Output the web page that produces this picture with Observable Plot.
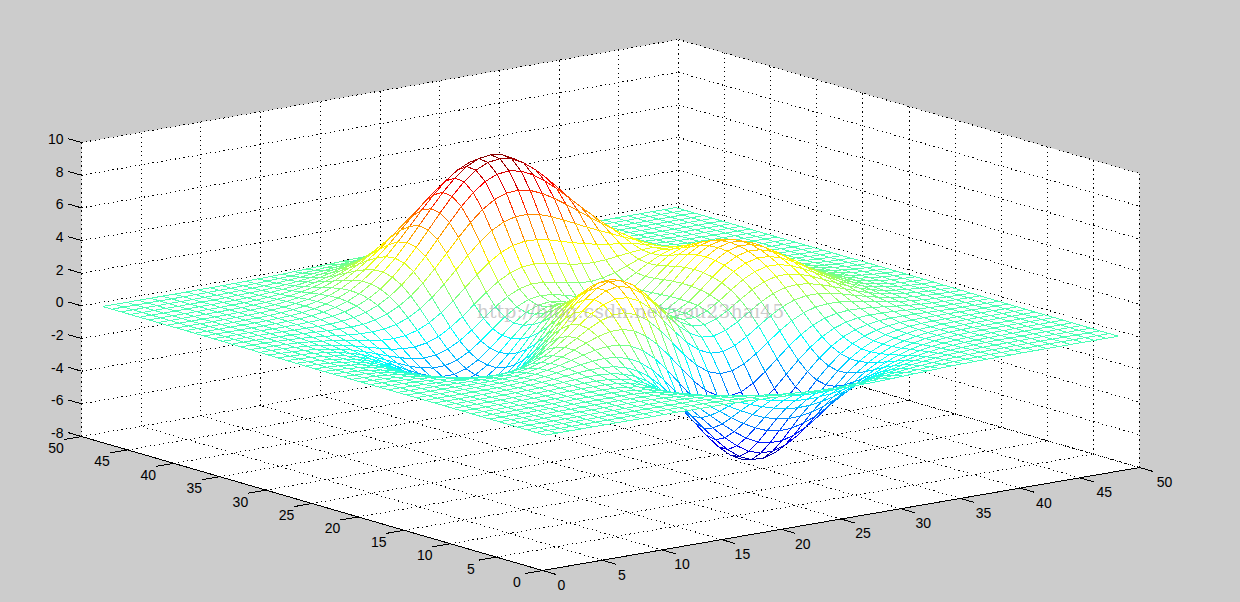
<!DOCTYPE html>
<html><head><meta charset="utf-8">
<script src="https://cdn.jsdelivr.net/npm/d3@7"></script>
<script src="https://cdn.jsdelivr.net/npm/@observablehq/plot@0.6"></script>
<style>html,body{margin:0;padding:0;background:#ccc;overflow:hidden}svg{display:block}</style>
</head><body><div id="chart"></div>
<script>
const xTicks=[0,5,10,15,20,25,30,35,40,45,50];
const yTicks=[0,5,10,15,20,25,30,35,40,45,50];
const zTicks=[-8,-6,-4,-2,0,2,4,6,8,10];
const jetStops=[-6.55,-4.72,-1.06,2.61,6.27,8.1];
const jetColors=["#00007f","#0000ff","#00ffff","#ffff00","#ff0000","#7f0000"];
const watermark="http://blog.csdn.net/you23hai45";
// surface heights, one row per y = 1..49, one value per x = 1..49
const zRows=[
[0,0,0,0,0,0,0,0,0,0,.01,.01,0,0,-.01,-.01,-.03,-.05,-.08,-.11,-.14,-.17,-.2,-.23,-.25,-.25,-.25,-.24,-.22,-.2,-.17,-.14,-.11,-.08,-.06,-.04,-.03,-.02,-.01,-.01,0,0,0,0,0,0,0,0,0],
[0,0,0,0,0,0,0,0,.01,.01,.01,.01,0,0,-.01,-.03,-.06,-.09,-.13,-.18,-.24,-.29,-.34,-.39,-.42,-.43,-.43,-.41,-.38,-.33,-.28,-.23,-.19,-.14,-.11,-.08,-.05,-.04,-.02,-.02,-.01,-.01,0,0,0,0,0,0,0],
[0,0,0,0,0,0,0,.01,.01,.01,.01,.01,0,-.01,-.02,-.05,-.1,-.15,-.22,-.3,-.39,-.48,-.56,-.63,-.68,-.7,-.69,-.66,-.61,-.54,-.46,-.38,-.3,-.23,-.17,-.12,-.09,-.06,-.04,-.02,-.02,-.01,-.01,0,0,0,0,0,0],
[0,0,0,0,0,0,.01,.01,.01,.01,.01,.01,0,-.01,-.04,-.09,-.15,-.24,-.35,-.48,-.61,-.75,-.88,-.98,-1.05,-1.09,-1.08,-1.03,-.95,-.84,-.71,-.59,-.46,-.35,-.26,-.18,-.12,-.08,-.05,-.03,-.02,-.01,-.01,0,0,0,0,0,0],
[0,0,0,0,0,0,.01,.01,.01,.02,.02,.02,0,-.02,-.07,-.14,-.23,-.36,-.53,-.71,-.91,-1.12,-1.31,-1.46,-1.57,-1.62,-1.6,-1.53,-1.41,-1.24,-1.06,-.87,-.69,-.52,-.38,-.27,-.18,-.12,-.08,-.05,-.03,-.01,-.01,-.01,0,0,0,0,0],
[0,0,0,0,0,.01,.01,.02,.02,.02,.03,.02,0,-.03,-.1,-.19,-.33,-.51,-.74,-1.01,-1.3,-1.59,-1.85,-2.07,-2.23,-2.3,-2.28,-2.18,-2,-1.77,-1.51,-1.24,-.98,-.74,-.54,-.38,-.26,-.17,-.11,-.06,-.04,-.02,-.01,-.01,0,0,0,0,0],
[0,0,0,0,.01,.01,.02,.02,.03,.03,.03,.03,.01,-.04,-.12,-.25,-.44,-.69,-1,-1.36,-1.74,-2.14,-2.5,-2.81,-3.02,-3.12,-3.1,-2.96,-2.72,-2.41,-2.05,-1.68,-1.32,-1,-.74,-.52,-.35,-.22,-.14,-.08,-.05,-.03,-.01,-.01,0,0,0,0,0],
[0,0,0,0,.01,.01,.02,.03,.04,.04,.05,.05,.02,-.04,-.14,-.3,-.53,-.85,-1.24,-1.71,-2.21,-2.73,-3.21,-3.61,-3.9,-4.04,-4.01,-3.83,-3.53,-3.12,-2.65,-2.17,-1.71,-1.3,-.95,-.66,-.44,-.28,-.17,-.1,-.05,-.03,-.01,-.01,0,0,0,0,0],
[0,0,0,.01,.01,.01,.02,.03,.05,.06,.07,.07,.05,-.01,-.13,-.31,-.59,-.97,-1.45,-2.01,-2.64,-3.28,-3.88,-4.39,-4.76,-4.94,-4.93,-4.72,-4.35,-3.85,-3.27,-2.68,-2.1,-1.59,-1.15,-.8,-.53,-.34,-.2,-.12,-.06,-.03,-.01,-.01,0,0,0,0,0],
[0,0,0,.01,.01,.02,.03,.04,.06,.08,.1,.1,.09,.04,-.08,-.27,-.58,-1,-1.54,-2.2,-2.93,-3.69,-4.41,-5.03,-5.49,-5.73,-5.74,-5.51,-5.08,-4.5,-3.82,-3.12,-2.44,-1.83,-1.32,-.9,-.59,-.37,-.22,-.12,-.06,-.03,-.01,0,0,0,0,0,0],
[0,0,0,.01,.01,.02,.03,.05,.07,.1,.13,.15,.15,.12,.02,-.16,-.46,-.9,-1.48,-2.19,-3.01,-3.87,-4.7,-5.43,-5.98,-6.29,-6.33,-6.11,-5.64,-5,-4.24,-3.45,-2.69,-2,-1.42,-.96,-.61,-.37,-.2,-.1,-.05,-.01,0,.01,.01,0,0,0,0],
[0,0,0,.01,.01,.02,.03,.05,.08,.12,.16,.2,.24,.24,.18,.04,-.22,-.63,-1.19,-1.92,-2.77,-3.69,-4.6,-5.42,-6.06,-6.45,-6.55,-6.35,-5.89,-5.22,-4.42,-3.58,-2.76,-2.03,-1.41,-.93,-.57,-.32,-.16,-.06,-.01,.01,.02,.02,.01,.01,.01,0,0],
[0,0,0,0,.01,.01,.03,.05,.08,.13,.19,.26,.33,.38,.39,.33,.15,-.18,-.68,-1.35,-2.18,-3.12,-4.07,-4.96,-5.68,-6.15,-6.32,-6.18,-5.76,-5.11,-4.31,-3.46,-2.63,-1.89,-1.27,-.79,-.44,-.21,-.07,.01,.04,.05,.05,.04,.03,.02,.01,.01,0],
[0,0,0,0,0,0,.01,.03,.07,.12,.19,.29,.41,.53,.63,.67,.61,.41,.04,-.53,-1.28,-2.17,-3.13,-4.05,-4.83,-5.39,-5.65,-5.6,-5.25,-4.65,-3.9,-3.09,-2.29,-1.57,-.98,-.53,-.22,-.03,.08,.12,.12,.11,.08,.06,.04,.03,.02,.01,.01],
[0,-.01,-.01,-.01,-.01,-.02,-.01,0,.03,.08,.17,.29,.45,.64,.84,1.01,1.11,1.08,.88,.48,-.14,-.94,-1.85,-2.77,-3.61,-4.24,-4.61,-4.66,-4.4,-3.9,-3.23,-2.48,-1.74,-1.08,-.56,-.17,.08,.22,.27,.26,.23,.18,.13,.09,.06,.04,.02,.01,.01],
[-.01,-.01,-.02,-.02,-.03,-.04,-.05,-.05,-.03,.01,.09,.23,.42,.68,.98,1.28,1.55,1.73,1.74,1.53,1.09,.43,-.4,-1.3,-2.16,-2.87,-3.32,-3.48,-3.34,-2.94,-2.36,-1.7,-1.04,-.47,-.02,.29,.46,.52,.5,.44,.35,.27,.19,.13,.09,.05,.03,.02,.01],
[-.01,-.02,-.02,-.04,-.06,-.08,-.1,-.12,-.13,-.11,-.04,.09,.3,.6,.98,1.42,1.86,2.23,2.45,2.47,2.22,1.72,1,.14,-.73,-1.48,-2.02,-2.27,-2.22,-1.92,-1.43,-.85,-.27,.22,.58,.8,.88,.86,.77,.64,.5,.37,.26,.18,.11,.07,.04,.02,.01],
[-.01,-.02,-.04,-.06,-.09,-.13,-.17,-.22,-.26,-.28,-.24,-.14,.07,.39,.83,1.36,1.95,2.5,2.93,3.15,3.11,2.77,2.16,1.37,.51,-.27,-.86,-1.18,-1.21,-.97,-.54,-.02,.49,.91,1.2,1.34,1.33,1.23,1.06,.85,.66,.48,.34,.22,.14,.09,.05,.03,.02],
[-.02,-.03,-.05,-.08,-.12,-.18,-.25,-.34,-.42,-.49,-.51,-.45,-.28,.03,.5,1.1,1.78,2.48,3.09,3.5,3.63,3.44,2.94,2.22,1.4,.61,0,-.36,-.41,-.2,.2,.7,1.18,1.56,1.79,1.86,1.78,1.59,1.35,1.08,.82,.6,.41,.28,.18,.11,.06,.04,.02],
[-.02,-.04,-.06,-.1,-.16,-.24,-.35,-.47,-.61,-.73,-.82,-.83,-.72,-.45,0,.63,1.38,2.18,2.92,3.48,3.76,3.7,3.31,2.66,1.88,1.11,.51,.16,.11,.34,.76,1.27,1.75,2.11,2.31,2.33,2.19,1.94,1.62,1.29,.98,.71,.49,.32,.21,.13,.08,.04,.02],
[-.03,-.05,-.08,-.13,-.2,-.3,-.44,-.61,-.8,-.99,-1.16,-1.25,-1.21,-1.01,-.6,.02,.8,1.66,2.49,3.16,3.55,3.6,3.3,2.73,2,1.27,.7,.39,.39,.67,1.14,1.69,2.2,2.57,2.76,2.75,2.56,2.25,1.88,1.48,1.12,.81,.56,.37,.24,.15,.09,.05,.03],
[-.03,-.05,-.09,-.15,-.24,-.36,-.53,-.74,-.98,-1.24,-1.49,-1.66,-1.71,-1.58,-1.23,-.66,.12,1,1.89,2.63,3.11,3.25,3.03,2.53,1.86,1.19,.67,.42,.48,.83,1.37,1.98,2.53,2.93,3.11,3.08,2.86,2.51,2.09,1.65,1.25,.9,.62,.41,.26,.16,.09,.05,.03],
[-.03,-.06,-.1,-.17,-.27,-.41,-.6,-.85,-1.14,-1.46,-1.78,-2.03,-2.16,-2.12,-1.84,-1.31,-.56,.32,1.23,2.02,2.56,2.77,2.63,2.19,1.58,.98,.53,.34,.48,.89,1.5,2.16,2.76,3.18,3.37,3.33,3.09,2.7,2.25,1.77,1.34,.97,.67,.44,.28,.17,.1,.06,.03],
[-.04,-.06,-.11,-.18,-.29,-.44,-.66,-.93,-1.26,-1.63,-2,-2.32,-2.53,-2.55,-2.34,-1.87,-1.17,-.31,.6,1.41,2,2.26,2.18,1.81,1.27,.74,.35,.23,.43,.9,1.56,2.27,2.89,3.33,3.53,3.49,3.23,2.82,2.34,1.85,1.4,1.01,.7,.46,.29,.18,.11,.06,.03],
[-.04,-.07,-.11,-.19,-.3,-.46,-.69,-.98,-1.33,-1.73,-2.14,-2.51,-2.77,-2.86,-2.71,-2.3,-1.65,-.82,.06,.88,1.48,1.78,1.75,1.45,.98,.51,.19,.13,.37,.89,1.57,2.3,2.94,3.38,3.58,3.53,3.27,2.86,2.37,1.87,1.41,1.02,.7,.46,.3,.18,.11,.06,.03],
[-.04,-.07,-.11,-.19,-.3,-.47,-.69,-.99,-1.35,-1.76,-2.2,-2.59,-2.89,-3.02,-2.93,-2.57,-1.98,-1.21,-.36,.43,1.03,1.36,1.37,1.13,.73,.32,.06,.05,.32,.85,1.54,2.26,2.89,3.33,3.52,3.47,3.21,2.81,2.33,1.84,1.39,1,.69,.46,.29,.18,.11,.06,.03],
[-.04,-.06,-.11,-.18,-.29,-.45,-.67,-.96,-1.32,-1.73,-2.16,-2.56,-2.87,-3.03,-2.98,-2.68,-2.15,-1.44,-.65,.1,.68,1.01,1.06,.86,.52,.18,-.03,-.01,.28,.8,1.47,2.16,2.76,3.18,3.36,3.31,3.06,2.68,2.22,1.75,1.32,.95,.66,.43,.28,.17,.1,.06,.03],
[-.03,-.06,-.1,-.17,-.27,-.42,-.63,-.9,-1.24,-1.63,-2.04,-2.42,-2.74,-2.91,-2.88,-2.63,-2.16,-1.51,-.79,-.1,.45,.77,.84,.69,.41,.13,-.04,0,.28,.77,1.38,2.02,2.58,2.95,3.12,3.07,2.83,2.47,2.05,1.62,1.22,.88,.61,.4,.26,.16,.09,.05,.03],
[-.03,-.05,-.09,-.15,-.25,-.38,-.57,-.82,-1.12,-1.47,-1.85,-2.21,-2.49,-2.65,-2.64,-2.42,-2,-1.42,-.76,-.13,.39,.7,.8,.69,.46,.23,.09,.13,.38,.8,1.34,1.9,2.38,2.7,2.83,2.78,2.56,2.23,1.85,1.45,1.09,.79,.54,.36,.23,.14,.08,.05,.03],
[-.03,-.05,-.08,-.13,-.21,-.33,-.5,-.71,-.98,-1.28,-1.61,-1.92,-2.16,-2.29,-2.27,-2.06,-1.67,-1.13,-.52,.08,.57,.89,1.01,.95,.78,.58,.45,.47,.65,.99,1.41,1.85,2.22,2.47,2.55,2.48,2.27,1.97,1.62,1.27,.96,.69,.47,.31,.2,.12,.07,.04,.02],
[-.02,-.04,-.07,-.11,-.18,-.28,-.42,-.6,-.82,-1.07,-1.33,-1.57,-1.76,-1.84,-1.78,-1.55,-1.16,-.64,-.05,.54,1.04,1.39,1.55,1.55,1.42,1.25,1.12,1.08,1.17,1.37,1.65,1.94,2.17,2.31,2.32,2.21,1.99,1.71,1.4,1.1,.82,.59,.41,.27,.17,.1,.06,.03,.02],
[-.02,-.03,-.05,-.09,-.15,-.22,-.33,-.47,-.65,-.84,-1.03,-1.21,-1.32,-1.33,-1.21,-.94,-.51,.03,.65,1.26,1.8,2.2,2.43,2.49,2.42,2.27,2.1,1.99,1.95,1.99,2.08,2.17,2.24,2.24,2.16,1.99,1.76,1.49,1.2,.93,.69,.49,.34,.22,.14,.09,.05,.03,.02],
[-.01,-.03,-.04,-.07,-.11,-.17,-.25,-.36,-.48,-.61,-.74,-.83,-.86,-.8,-.6,-.26,.23,.83,1.51,2.18,2.79,3.28,3.59,3.72,3.69,3.55,3.34,3.13,2.94,2.78,2.66,2.55,2.43,2.28,2.09,1.85,1.58,1.3,1.04,.79,.58,.41,.28,.18,.11,.07,.04,.02,.01],
[-.01,-.02,-.03,-.05,-.08,-.12,-.18,-.25,-.33,-.41,-.47,-.48,-.43,-.28,0,.43,.99,1.67,2.43,3.19,3.89,4.46,4.86,5.06,5.08,4.94,4.68,4.36,4.01,3.66,3.33,3.01,2.7,2.39,2.07,1.76,1.45,1.16,.9,.67,.49,.34,.23,.15,.09,.06,.03,.02,.01],
[-.01,-.01,-.02,-.04,-.06,-.08,-.12,-.16,-.2,-.22,-.22,-.18,-.05,.19,.55,1.05,1.7,2.46,3.29,4.13,4.92,5.58,6.07,6.34,6.39,6.25,5.94,5.52,5.02,4.5,3.97,3.46,2.97,2.51,2.09,1.7,1.35,1.05,.79,.58,.41,.28,.19,.12,.07,.05,.03,.01,.01],
[0,-.01,-.01,-.02,-.03,-.05,-.07,-.08,-.09,-.08,-.03,.07,.26,.56,.98,1.55,2.25,3.07,3.97,4.87,5.73,6.46,7.01,7.33,7.41,7.27,6.92,6.41,5.81,5.14,4.46,3.8,3.17,2.6,2.09,1.65,1.27,.96,.7,.5,.35,.23,.15,.1,.06,.03,.02,.01,.01],
[0,-.01,-.01,-.01,-.02,-.03,-.03,-.03,-.01,.03,.11,.25,.48,.81,1.27,1.87,2.61,3.45,4.37,5.31,6.19,6.96,7.54,7.89,7.99,7.85,7.48,6.93,6.25,5.5,4.72,3.96,3.25,2.61,2.05,1.58,1.19,.87,.62,.43,.29,.19,.12,.08,.05,.03,.02,.01,0],
[0,0,-.01,-.01,-.01,-.01,0,.01,.04,.1,.2,.36,.6,.95,1.42,2.02,2.74,3.57,4.48,5.39,6.27,7.02,7.6,7.96,8.07,7.93,7.56,7.01,6.3,5.52,4.71,3.92,3.18,2.52,1.95,1.47,1.08,.78,.55,.37,.25,.16,.1,.06,.04,.02,.01,.01,0],
[0,0,0,0,0,0,.01,.03,.07,.13,.24,.41,.65,.98,1.43,1.99,2.67,3.45,4.29,5.15,5.96,6.68,7.22,7.57,7.68,7.55,7.2,6.66,5.99,5.23,4.45,3.68,2.96,2.32,1.78,1.32,.96,.68,.47,.31,.21,.13,.08,.05,.03,.02,.01,0,0],
[0,0,0,0,0,.01,.02,.04,.08,.15,.25,.4,.62,.93,1.33,1.83,2.44,3.12,3.87,4.62,5.35,5.98,6.47,6.78,6.88,6.76,6.45,5.97,5.36,4.68,3.97,3.27,2.62,2.04,1.55,1.14,.82,.57,.39,.26,.17,.1,.06,.04,.02,.01,.01,0,0],
[0,0,0,0,.01,.01,.02,.04,.08,.14,.23,.36,.55,.82,1.16,1.59,2.1,2.68,3.31,3.95,4.56,5.09,5.51,5.77,5.86,5.76,5.5,5.09,4.57,3.98,3.37,2.77,2.21,1.72,1.29,.95,.68,.47,.32,.21,.13,.08,.05,.03,.02,.01,0,0,0],
[0,0,0,0,.01,.01,.02,.04,.07,.12,.2,.3,.46,.68,.95,1.3,1.71,2.18,2.68,3.2,3.69,4.12,4.45,4.67,4.74,4.67,4.45,4.12,3.69,3.22,2.72,2.23,1.78,1.37,1.03,.75,.53,.37,.25,.16,.1,.06,.04,.02,.01,.01,0,0,0],
[0,0,0,0,.01,.01,.02,.03,.06,.1,.16,.24,.36,.53,.74,1.01,1.32,1.68,2.07,2.46,2.84,3.17,3.43,3.6,3.65,3.59,3.42,3.17,2.84,2.48,2.09,1.71,1.36,1.05,.79,.57,.4,.28,.19,.12,.08,.05,.03,.02,.01,0,0,0,0],
[0,0,0,0,0,.01,.01,.03,.04,.07,.12,.18,.27,.39,.55,.74,.97,1.24,1.52,1.81,2.09,2.33,2.52,2.64,2.68,2.64,2.52,2.33,2.09,1.82,1.53,1.25,1,.77,.58,.42,.29,.2,.13,.09,.05,.03,.02,.01,.01,0,0,0,0],
[0,0,0,0,0,.01,.01,.02,.03,.05,.08,.13,.19,.28,.39,.52,.69,.87,1.07,1.27,1.47,1.64,1.77,1.86,1.88,1.86,1.77,1.64,1.47,1.28,1.08,.88,.7,.54,.4,.29,.2,.14,.09,.06,.04,.02,.01,.01,.01,0,0,0,0],
[0,0,0,0,0,0,.01,.01,.02,.04,.06,.09,.13,.19,.26,.35,.46,.59,.72,.86,.99,1.1,1.19,1.25,1.27,1.25,1.19,1.1,.99,.86,.72,.59,.47,.36,.27,.19,.13,.09,.06,.04,.02,.01,.01,0,0,0,0,0,0],
[0,0,0,0,0,0,0,.01,.01,.02,.04,.06,.08,.12,.17,.23,.3,.38,.47,.55,.64,.71,.77,.81,.82,.81,.77,.71,.64,.55,.47,.38,.3,.23,.17,.12,.09,.06,.04,.02,.01,.01,0,0,0,0,0,0,0],
[0,0,0,0,0,0,0,.01,.01,.02,.02,.04,.05,.08,.11,.14,.19,.24,.29,.34,.39,.44,.48,.5,.51,.5,.48,.44,.39,.34,.29,.24,.19,.14,.11,.08,.05,.04,.02,.02,.01,.01,0,0,0,0,0,0,0],
[0,0,0,0,0,0,0,0,.01,.01,.01,.02,.03,.05,.06,.08,.11,.14,.17,.2,.23,.26,.28,.3,.3,.3,.28,.26,.23,.2,.17,.14,.11,.08,.06,.05,.03,.02,.01,.01,.01,0,0,0,0,0,0,0,0]
];

// axonometric view of the box, fixed by where its corners sit in the picture
const project=(x,y,z)=>({px:542+11.94*x-9.22*y, py:570-2.06*x-2.68*y-16.33*(z+8)});
const seg=(a,b)=>{const p=project(...a),q=project(...b);return {x1:p.px,y1:p.py,x2:q.px,y2:q.py};};

const pane=[[0,0,-8],[50,0,-8],[50,0,10],[50,50,10],[0,50,10],[0,50,-8],[0,0,-8]].map(c=>project(...c));

const grid=[];
for(const x of xTicks){grid.push(seg([x,0,-8],[x,50,-8]),seg([x,50,-8],[x,50,10]));}
for(const y of yTicks){grid.push(seg([0,y,-8],[50,y,-8]),seg([50,y,-8],[50,y,10]));}
for(const z of zTicks){grid.push(seg([0,50,z],[50,50,z]),seg([50,50,z],[50,0,z]));}

const tickLen=1.5;
const axisLines=[seg([0,0,-8],[50,0,-8]),seg([0,0,-8],[0,50,-8])];
for(const x of xTicks)axisLines.push(seg([x,0,-8],[x,-tickLen,-8]));
for(const y of yTicks)axisLines.push(seg([0,y,-8],[-tickLen,y,-8]));
for(const z of zTicks)axisLines.push(seg([0,50,z],[0,50+tickLen,z]));

const xLabels=xTicks.map(v=>{const p=project(v,0,-8);return {px:p.px+19+.12*v,py:p.py+15,t:String(v)};});
const yLabels=yTicks.map(v=>{const p=project(0,v,-8);return {px:p.px-25.5,py:p.py+12,t:String(v)};});
const zLabels=zTicks.map(v=>{const p=project(0,50,v);return {px:p.px-18,py:p.py-3,t:String(v)};});

// facets back to front so nearer ones hide what lies behind them
const cells=[];
let id=0;
for(let j=47;j>=0;j--)for(let i=47;i>=0;i--){
  const quad=[[i,j],[i+1,j],[i+1,j+1],[i,j+1],[i,j]];
  const level=(zRows[j][i]+zRows[j][i+1]+zRows[j+1][i]+zRows[j+1][i+1])/4;
  for(const [a,b] of quad){cells.push({...project(a+1,b+1,zRows[b][a]),id,level});}
  id++;
}

const textStyle={fontFamily:"'Liberation Sans',Arial,sans-serif",fontSize:14,fill:"#000"};
const chart=Plot.plot({
  width:1240,height:602,margin:0,
  style:{background:"#ccc"},
  x:{domain:[0,1240],axis:null},
  y:{domain:[602,0],axis:null},
  color:{type:"linear",domain:jetStops,range:jetColors,interpolate:"rgb"},
  marks:[
    Plot.line(pane,{x:"px",y:"py",fill:"#fff",stroke:"none"}),
    Plot.link(grid,{x1:"x1",y1:"y1",x2:"x2",y2:"y2",stroke:"#000",strokeWidth:1,strokeDasharray:"1.2,3.3",shapeRendering:"crispEdges"}),
    Plot.line(cells,{x:"px",y:"py",z:"id",stroke:"level",fill:"#fff",strokeWidth:1,strokeLinejoin:"miter",shapeRendering:"crispEdges"}),
    Plot.link(axisLines,{x1:"x1",y1:"y1",x2:"x2",y2:"y2",stroke:"#000",strokeWidth:1,shapeRendering:"crispEdges"}),
    Plot.text(xLabels,{x:"px",y:"py",text:"t",textAnchor:"middle",...textStyle}),
    Plot.text(yLabels,{x:"px",y:"py",text:"t",textAnchor:"middle",...textStyle}),
    Plot.text(zLabels,{x:"px",y:"py",text:"t",textAnchor:"end",...textStyle}),
    Plot.text([watermark],{x:()=>630,y:()=>311,text:d=>d,textAnchor:"middle",fontFamily:"'DejaVu Serif',serif",fontSize:19,fill:"#aaa",fillOpacity:.6})
  ]
});
document.getElementById("chart").appendChild(chart);
</script>
</body></html>
